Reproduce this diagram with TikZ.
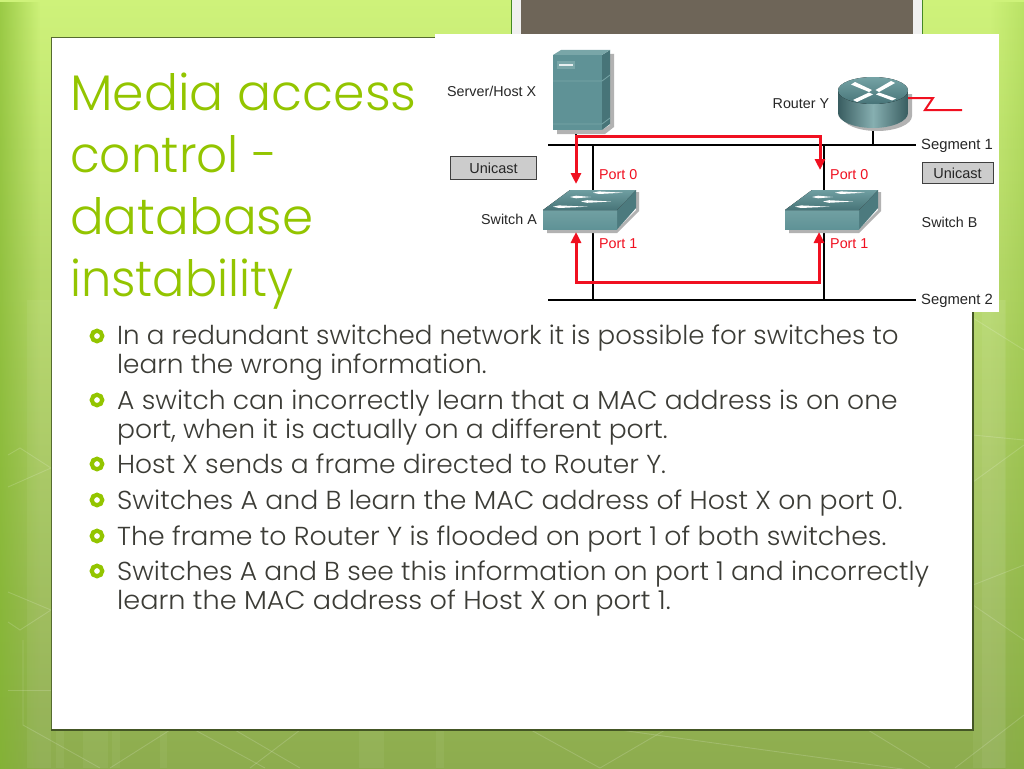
\documentclass[tikz,border=0pt]{standalone}
\usepackage{fontspec}
\usepackage{graphicx}
\setmainfont{Poppins Light}
\newfontfamily\labelfont{Liberation Sans}
\usetikzlibrary{arrows.meta,calc,fadings}
\definecolor{titlegreen}{HTML}{93C500}
\definecolor{bodygrey}{HTML}{3C3C36}
\definecolor{netred}{HTML}{F01020}
\definecolor{teal1}{HTML}{5F9296}
\definecolor{teal2}{HTML}{477478}
\definecolor{teal3}{HTML}{79A6A8}
\definecolor{panelline}{HTML}{556B2F}
\definecolor{tabbrown}{HTML}{6E6558}
\definecolor{bgtop}{HTML}{CEF27A}
\definecolor{bgbot}{HTML}{8DAC4E}
\definecolor{edgegreen}{HTML}{7FB52A}
\newcommand{\fitx}[2]{\scalebox{#1}[1]{#2}}
\tikzset{
  x=1pt,y=-1pt,
  titletext/.style={anchor=base west,inner sep=0pt,font=\fontsize{50}{50}\selectfont,text=titlegreen},
  bodytext/.style={anchor=base west,inner sep=0pt,font=\fontsize{26}{28}\selectfont,text=bodygrey},
  bulletring/.style={circle,draw=titlegreen,line width=4.2pt,minimum size=10.5pt,inner sep=0pt},
  netlabel/.style={inner sep=0pt,font=\labelfont\fontsize{14.3}{14.3}\selectfont,text=black!85},
  seglabel/.style={anchor=west,inner sep=0pt,font=\labelfont\fontsize{14.8}{14.8}\selectfont,text=black!85},
  portlabel/.style={anchor=west,inner sep=0pt,font=\labelfont\fontsize{14.3}{14.3}\selectfont,text=netred},
  castbox/.style={draw=black!75,fill=black!20,line width=.9pt,inner sep=0pt,font=\labelfont\fontsize{14.5}{14.5}\selectfont,text=black!85},
  wire/.style={black,line width=2.8pt},
  redwire/.style={netred,line width=3pt},
  redarrow/.style={netred,line width=3pt,-{Triangle[width=10pt,length=11pt]}},
  hexline/.style={white,opacity=.16,line width=.9pt},
  stripe/.style={white,opacity=.05},
}
\begin{document}
\begin{tikzpicture}
\useasboundingbox (0,0) rectangle (1024,768);
% background
\fill[top color=bgtop,bottom color=bgbot] (0,0) rectangle (1024,768);
\fill[edgegreen,path fading=east,opacity=.65] (0,0) rectangle (40,768);
\fill[edgegreen,path fading=west,opacity=.25] (990,0) rectangle (1024,768);
\fill[stripe] (27,300) rectangle (51,768);
\fill[stripe] (973,300) rectangle (1005,768);
\fill[stripe] (982,300) rectangle (1006,768);
\fill[stripe] (56,730) rectangle (64,768);
\fill[stripe] (83,730) rectangle (108,768);
\fill[stripe] (112,730) rectangle (120,768);
\fill[stripe] (160,730) rectangle (167,768);
\fill[stripe] (359,730) rectangle (384,768);
\fill[stripe] (436,730) rectangle (444,768);
\draw[hexline] (8,455) -- (20,448) -- (51,468) -- (8,487);
\draw[hexline] (8,592) -- (51,610) -- (20,630) -- (8,622);
\draw[hexline] (8,690) -- (51,690);
\draw[hexline] (23,640) -- (23,725) -- (100,768);
\draw[hexline] (110,768) -- (170,730);
\draw[hexline] (195,730) -- (265,768);
\draw[hexline] (235,730) -- (300,768);
\draw[hexline] (250,768) -- (300,730);
\draw[hexline] (531,730) -- (600,768) -- (665,730);
\draw[hexline] (620,730) -- (924,772);
\draw[hexline] (868,730) -- (930,768);
\draw[hexline] (955,768) -- (1024,715);
\draw[hexline] (973,318) -- (1024,350);
\draw[hexline] (973,435) -- (1024,440);
\draw[hexline] (973,482) -- (1024,445);
\draw[hexline] (973,585) -- (1024,565);
\draw[hexline] (973,605) -- (1024,640);
% top tab
\fill[white!94!black] (511,0) rectangle (922,34);
\fill[panelline!80!green] (511,0) rectangle (512,34);
\fill[panelline!80!green] (922,0) rectangle (923,34);
\fill[tabbrown] (521,0) rectangle (913,34);
% panel
\draw[panelline,fill=white,line width=1pt] (51,38) rectangle (973,730);
\draw[panelline!80!black,line width=1.4pt] (51,730) -- (973,730) -- (973,312);
% title
\node[titletext] (t1) at (70,110) {\fitx{1.01}{Media access}};
\node[titletext] (t2) at (70,172) {\fitx{.97}{control -}};
\node[titletext] (t3) at (70,234) {database};
\node[titletext] (t4) at (70,296) {\fitx{.957}{instability}};
% image plate
\fill[white] (435,34) rectangle (999,312);
% body
\node[bulletring] (b1) at (97,336) {};
\node[bulletring] (b2) at (97,400) {};
\node[bulletring] (b3) at (97,464) {};
\node[bulletring] (b4) at (97,500) {};
\node[bulletring] (b5) at (97,536) {};
\node[bulletring] (b6) at (97,571) {};
\node[bodytext] (l1) at (117,344) {\fitx{1.004}{In a redundant switched network it is possible for switches to}};
\node[bodytext] (l1b) at (117,373) {\fitx{1.014}{learn the wrong information.}};
\node[bodytext] (l2) at (117,409) {\fitx{1.022}{A switch can incorrectly learn that a MAC address is on one}};
\node[bodytext] (l2b) at (117,438) {\fitx{1.023}{port, when it is actually on a different port.}};
\node[bodytext] (l3) at (117,473) {\fitx{1.02}{Host X sends a frame directed to Router Y.}};
\node[bodytext] (l4) at (117,509) {\fitx{1.027}{Switches A and B learn the MAC address of Host X on port 0.}};
\node[bodytext] (l5) at (117,545) {\fitx{1.03}{The frame to Router Y is flooded on port 1 of both switches.}};
\node[bodytext] (l6) at (117,580) {\fitx{1.02}{Switches A and B see this information on port 1 and incorrectly}};
\node[bodytext] (l6b) at (117,609) {\fitx{1.043}{learn the MAC address of Host X on port 1.}};
% network coordinates
\coordinate (s1l) at (548,145);
\coordinate (s1r) at (916,145);
\coordinate (s2l) at (548,300);
\coordinate (s2r) at (916,300);
\coordinate (hostdrop) at (576,130);
\coordinate (hosttap) at (576,145);
\coordinate (rtrdrop) at (873,128);
\coordinate (rtrtap) at (873,145);
\coordinate (atop) at (593,145);
\coordinate (abot) at (593,300);
\coordinate (btop) at (824,145);
\coordinate (bbot) at (824,300);
% wires
\draw[wire] (s1l) -- (s1r);
\draw[wire] (s2l) -- (s2r);
\draw[wire] (hostdrop) -- (hosttap);
\draw[wire] (rtrdrop) -- (rtrtap);
\draw[wire] (atop) -- (abot);
\draw[wire] (btop) -- (bbot);
% switches
\foreach \dx in {0,242}{
 \begin{scope}[xshift=\dx pt]
  \fill[black!30] (547,229) -- (547,233) -- (617,233) -- (639,211) -- (639,192) -- (636,192) -- (636,210) -- (617,229) -- cycle;
  \fill[teal2!80!teal1] (617,210) -- (636,190) -- (636,208) -- (617,229.5) -- cycle;
  \fill[top color=teal3!70!teal1,bottom color=teal1] (543,210) rectangle (617,229.5);
  \fill[top color=teal3!60!teal1,bottom color=teal2] (543,210) -- (570,190) -- (636,190) -- (617,210) -- cycle;
  \foreach \xa/\xb/\yy in {593/623/192.7,570/591/197,581/611/201.5,553/588/206.7}{
    \fill[white] (\xa,\yy) -- ({\xa+6},{\yy-1.3}) -- (\xb,\yy) -- ({\xa+6},{\yy+1.3}) -- cycle;
  }
 \end{scope}
}
% server
\fill[black!30] (557,130) -- (557,134) -- (605,134) -- (614,127) -- (614,54) -- (610,54) -- (610,125) -- (602,130) -- cycle;
\fill[teal2] (602,55) -- (610,50) -- (610,124) -- (602,130) -- cycle;
\fill[teal1] (553,55) rectangle (602,130);
\fill[teal3] (553,55) -- (561,50) -- (610,50) -- (602,55) -- cycle;
\draw[teal3,line width=.8pt] (553,81) -- (602,81) -- (610,75);
\draw[teal3,line width=.8pt] (553,124) -- (602,124) -- (610,118);
\fill[teal3] (557,61) rectangle (575,69);
\fill[white!85!teal1] (559,64) rectangle (573,66);
% router
\fill[black!30] (842,94) -- (842,116) arc[start angle=180,end angle=0,x radius=35,y radius=15] -- (912,94) -- cycle;
\shade[left color=teal2!80!black,right color=teal2!80!black,middle color=teal3!90!white] (838,90.5) -- (838,113) arc[start angle=180,end angle=0,x radius=35,y radius=15] -- (908,90.5) -- cycle;
\fill[top color=teal3!85!teal1,bottom color=teal2] (873,90.5) ellipse[x radius=35,y radius=13.5];
\fill[white] (851,84.5) -- (855,82) -- (872,90) -- (869,92) -- cycle;
\fill[white] (895,83) -- (891,81) -- (875.5,90) -- (879,92) -- cycle;
\fill[white] (853,100) -- (857,102) -- (873,94.5) -- (869,92.5) -- cycle;
\fill[white] (896,98.5) -- (892,100.5) -- (876,94.5) -- (879,92.5) -- cycle;
% red connectors
\coordinate (zz1) at (908,98);
\coordinate (zz2) at (933,98);
\coordinate (zz3) at (925,110);
\coordinate (zz4) at (962,110);
\draw[netred,line width=2pt] (zz1) -- (zz2) -- (zz3) -- (zz4);
\coordinate (hostred) at (576,136);
\coordinate (acorner) at (820,136);
\coordinate (aport0) at (576,184);
\coordinate (bport0) at (820,170);
\coordinate (ared) at (576,232);
\coordinate (alow) at (576,282);
\coordinate (blow) at (819,282);
\coordinate (bred) at (819,232);
\draw[redwire,line cap=rect] (hostred) -- (acorner);
\draw[redarrow] (hostred) -- (aport0);
\draw[redarrow] (acorner) -- (bport0);
\draw[redarrow] (alow) -- (ared);
\draw[redarrow] (blow) -- (bred);
\draw[redwire,line cap=rect] (alow) -- (blow);
% labels
\node[netlabel,anchor=west] (hostx) at (447,91) {Server/Host X};
\node[netlabel,anchor=west] (routery) at (772.5,104) {Router Y};
\node[seglabel] (seg1) at (921,145.5) {Segment 1};
\node[seglabel] (seg2) at (921,300.5) {Segment 2};
\node[netlabel,anchor=east] (swa) at (537,219.5) {Switch A};
\node[netlabel,anchor=west] (swb) at (921.5,222) {Switch B};
\node[portlabel] (p0a) at (599,174.5) {Port 0};
\node[portlabel] (p0b) at (830,174.5) {Port 0};
\node[portlabel] (p1a) at (599,244) {Port 1};
\node[portlabel] (p1b) at (830,244) {Port 1};
\node[castbox,minimum width=86pt,minimum height=23pt] (ua) at (493.5,168) {Unicast};
\node[castbox,minimum width=71pt,minimum height=21pt] (ub) at (957.5,173) {Unicast};
\end{tikzpicture}
\end{document}
